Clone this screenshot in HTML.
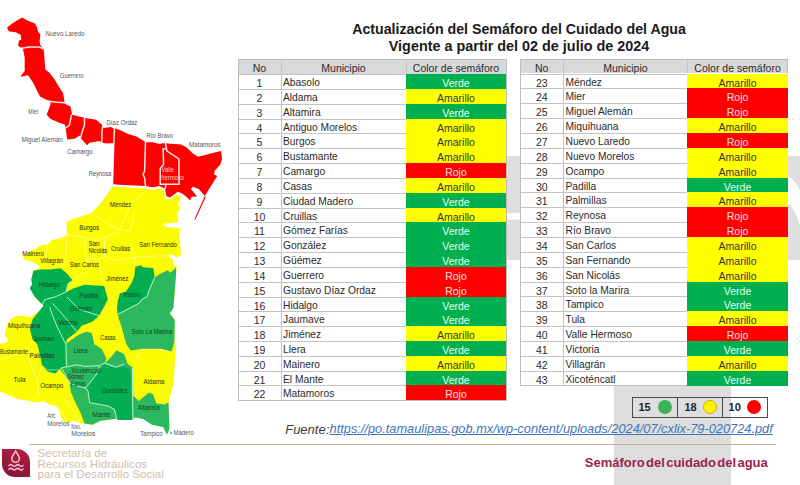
<!DOCTYPE html>
<html><head><meta charset="utf-8"><style>
*{margin:0;padding:0;box-sizing:border-box}
html,body{width:800px;height:485px;overflow:hidden;background:#fff;font-family:"Liberation Sans",sans-serif}
.a{position:absolute}
.tb{position:absolute;border:1px solid #bdbdbd;background:#fff}
.tb>div{position:absolute}
.hd{background:#d9d9d9}
.hl{height:1px;background:#c4c4c4}
.vl{width:1px;background:#c4c4c4}
.t{font-size:10.5px;color:#2a2a2a;white-space:nowrap;padding-top:2px}
.c{text-align:center}
.nm{font-size:10.25px}
.cl.V{background:#00b050}.cl.A{background:#ffff00}.cl.R{background:#ff0000}
.Vt{color:#e6fff0}.Rt{color:#ffe0e0}.At{color:#333}
.title{font-weight:bold;color:#1a1a1a;white-space:nowrap;text-align:center}
</style></head><body>
<!-- watermark -->
<div class="a" style="left:506px;top:156px;width:294px;height:104px;background:#dedee0"></div>
<div class="a" style="left:614px;top:386px;width:117px;height:99px;background:#dedee0"></div>
<svg class="a" style="left:500px;top:150px" width="300" height="120"><path d="M0,63.5 C100,62 220,45 288,26 C294,30 298,36 300,40 L300,76 C296,62 292,56 288,54 C220,62 100,69 0,69.7 Z" fill="#fff"/></svg>
<div class="a title" style="left:319px;top:21px;width:400px;font-size:14.2px;line-height:16px">Actualización del Semáforo del Cuidado del Agua</div>
<div class="a title" style="left:319px;top:38px;width:400px;font-size:14.4px;line-height:16px">Vigente a partir del 02 de julio de 2024</div>
<div class="a" style="left:238px;top:59.3px;width:268px;height:340.94px;background:#fff"></div>
<div class="a hd" style="left:238px;top:59.3px;width:268px;height:14.90px"></div>
<div class="a hl" style="left:238px;top:74.20px;width:168px"></div>
<div class="a hl" style="left:238px;top:89.02px;width:168px"></div>
<div class="a hl" style="left:238px;top:103.84px;width:168px"></div>
<div class="a hl" style="left:238px;top:118.66px;width:168px"></div>
<div class="a hl" style="left:238px;top:133.48px;width:168px"></div>
<div class="a hl" style="left:238px;top:148.30px;width:168px"></div>
<div class="a hl" style="left:238px;top:163.12px;width:168px"></div>
<div class="a hl" style="left:238px;top:177.94px;width:168px"></div>
<div class="a hl" style="left:238px;top:192.76px;width:168px"></div>
<div class="a hl" style="left:238px;top:207.58px;width:168px"></div>
<div class="a hl" style="left:238px;top:222.40px;width:168px"></div>
<div class="a hl" style="left:238px;top:237.22px;width:168px"></div>
<div class="a hl" style="left:238px;top:252.04px;width:168px"></div>
<div class="a hl" style="left:238px;top:266.86px;width:168px"></div>
<div class="a hl" style="left:238px;top:281.68px;width:168px"></div>
<div class="a hl" style="left:238px;top:296.50px;width:168px"></div>
<div class="a hl" style="left:238px;top:311.32px;width:168px"></div>
<div class="a hl" style="left:238px;top:326.14px;width:168px"></div>
<div class="a hl" style="left:238px;top:340.96px;width:168px"></div>
<div class="a hl" style="left:238px;top:355.78px;width:168px"></div>
<div class="a hl" style="left:238px;top:370.60px;width:168px"></div>
<div class="a hl" style="left:238px;top:385.42px;width:168px"></div>
<div class="a vl" style="left:280.5px;top:59.3px;height:340.94px"></div>
<div class="a vl" style="left:405.5px;top:59.3px;height:14.90px"></div>
<div class="a" style="left:237.5px;top:58.8px;width:269px;height:341.94px;border:1px solid #bdbdbd"></div>
<div class="a cl V" style="left:405.7px;width:100.8px;top:74.20px;height:15.12px"></div>
<div class="a cl A" style="left:405.7px;width:100.8px;top:89.02px;height:15.12px"></div>
<div class="a cl V" style="left:405.7px;width:100.8px;top:103.84px;height:15.12px"></div>
<div class="a cl A" style="left:405.7px;width:100.8px;top:118.66px;height:15.12px"></div>
<div class="a cl A" style="left:405.7px;width:100.8px;top:133.48px;height:15.12px"></div>
<div class="a cl A" style="left:405.7px;width:100.8px;top:148.30px;height:15.12px"></div>
<div class="a cl R" style="left:405.7px;width:100.8px;top:163.12px;height:15.12px"></div>
<div class="a cl A" style="left:405.7px;width:100.8px;top:177.94px;height:15.12px"></div>
<div class="a cl V" style="left:405.7px;width:100.8px;top:192.76px;height:15.12px"></div>
<div class="a cl A" style="left:405.7px;width:100.8px;top:207.58px;height:15.12px"></div>
<div class="a cl V" style="left:405.7px;width:100.8px;top:222.40px;height:15.12px"></div>
<div class="a cl V" style="left:405.7px;width:100.8px;top:237.22px;height:15.12px"></div>
<div class="a cl V" style="left:405.7px;width:100.8px;top:252.04px;height:15.12px"></div>
<div class="a cl R" style="left:405.7px;width:100.8px;top:266.86px;height:15.12px"></div>
<div class="a cl R" style="left:405.7px;width:100.8px;top:281.68px;height:15.12px"></div>
<div class="a cl V" style="left:405.7px;width:100.8px;top:296.50px;height:15.12px"></div>
<div class="a cl V" style="left:405.7px;width:100.8px;top:311.32px;height:15.12px"></div>
<div class="a cl A" style="left:405.7px;width:100.8px;top:326.14px;height:15.12px"></div>
<div class="a cl V" style="left:405.7px;width:100.8px;top:340.96px;height:15.12px"></div>
<div class="a cl A" style="left:405.7px;width:100.8px;top:355.78px;height:15.12px"></div>
<div class="a cl V" style="left:405.7px;width:100.8px;top:370.60px;height:15.12px"></div>
<div class="a cl R" style="left:405.7px;width:100.8px;top:385.42px;height:14.82px"></div>
<div class="a t c" style="left:238px;width:43px;top:59.30px;height:14.90px;line-height:14.90px">No</div>
<div class="a t c" style="left:281px;width:125px;top:59.30px;height:14.90px;line-height:14.90px">Municipio</div>
<div class="a t c" style="left:406px;width:100px;top:59.30px;height:14.90px;line-height:14.90px">Color de semáforo</div>
<div class="a t c" style="left:238px;width:43px;top:74.20px;height:14.82px;line-height:14.82px">1</div>
<div class="a t nm" style="left:283px;top:74.20px;height:14.82px;line-height:14.82px">Abasolo</div>
<div class="a t c Vt" style="left:406px;width:100px;top:74.20px;height:14.82px;line-height:14.82px">Verde</div>
<div class="a t c" style="left:238px;width:43px;top:89.02px;height:14.82px;line-height:14.82px">2</div>
<div class="a t nm" style="left:283px;top:89.02px;height:14.82px;line-height:14.82px">Aldama</div>
<div class="a t c At" style="left:406px;width:100px;top:89.02px;height:14.82px;line-height:14.82px">Amarillo</div>
<div class="a t c" style="left:238px;width:43px;top:103.84px;height:14.82px;line-height:14.82px">3</div>
<div class="a t nm" style="left:283px;top:103.84px;height:14.82px;line-height:14.82px">Altamira</div>
<div class="a t c Vt" style="left:406px;width:100px;top:103.84px;height:14.82px;line-height:14.82px">Verde</div>
<div class="a t c" style="left:238px;width:43px;top:118.66px;height:14.82px;line-height:14.82px">4</div>
<div class="a t nm" style="left:283px;top:118.66px;height:14.82px;line-height:14.82px">Antiguo Morelos</div>
<div class="a t c At" style="left:406px;width:100px;top:118.66px;height:14.82px;line-height:14.82px">Amarillo</div>
<div class="a t c" style="left:238px;width:43px;top:133.48px;height:14.82px;line-height:14.82px">5</div>
<div class="a t nm" style="left:283px;top:133.48px;height:14.82px;line-height:14.82px">Burgos</div>
<div class="a t c At" style="left:406px;width:100px;top:133.48px;height:14.82px;line-height:14.82px">Amarillo</div>
<div class="a t c" style="left:238px;width:43px;top:148.30px;height:14.82px;line-height:14.82px">6</div>
<div class="a t nm" style="left:283px;top:148.30px;height:14.82px;line-height:14.82px">Bustamante</div>
<div class="a t c At" style="left:406px;width:100px;top:148.30px;height:14.82px;line-height:14.82px">Amarillo</div>
<div class="a t c" style="left:238px;width:43px;top:163.12px;height:14.82px;line-height:14.82px">7</div>
<div class="a t nm" style="left:283px;top:163.12px;height:14.82px;line-height:14.82px">Camargo</div>
<div class="a t c Rt" style="left:406px;width:100px;top:163.12px;height:14.82px;line-height:14.82px">Rojo</div>
<div class="a t c" style="left:238px;width:43px;top:177.94px;height:14.82px;line-height:14.82px">8</div>
<div class="a t nm" style="left:283px;top:177.94px;height:14.82px;line-height:14.82px">Casas</div>
<div class="a t c At" style="left:406px;width:100px;top:177.94px;height:14.82px;line-height:14.82px">Amarillo</div>
<div class="a t c" style="left:238px;width:43px;top:192.76px;height:14.82px;line-height:14.82px">9</div>
<div class="a t nm" style="left:283px;top:192.76px;height:14.82px;line-height:14.82px">Ciudad Madero</div>
<div class="a t c Vt" style="left:406px;width:100px;top:192.76px;height:14.82px;line-height:14.82px">Verde</div>
<div class="a t c" style="left:238px;width:43px;top:207.58px;height:14.82px;line-height:14.82px">10</div>
<div class="a t nm" style="left:283px;top:207.58px;height:14.82px;line-height:14.82px">Cruillas</div>
<div class="a t c At" style="left:406px;width:100px;top:207.58px;height:14.82px;line-height:14.82px">Amarillo</div>
<div class="a t c" style="left:238px;width:43px;top:222.40px;height:14.82px;line-height:14.82px">11</div>
<div class="a t nm" style="left:283px;top:222.40px;height:14.82px;line-height:14.82px">Gómez Farías</div>
<div class="a t c Vt" style="left:406px;width:100px;top:222.40px;height:14.82px;line-height:14.82px">Verde</div>
<div class="a t c" style="left:238px;width:43px;top:237.22px;height:14.82px;line-height:14.82px">12</div>
<div class="a t nm" style="left:283px;top:237.22px;height:14.82px;line-height:14.82px">González</div>
<div class="a t c Vt" style="left:406px;width:100px;top:237.22px;height:14.82px;line-height:14.82px">Verde</div>
<div class="a t c" style="left:238px;width:43px;top:252.04px;height:14.82px;line-height:14.82px">13</div>
<div class="a t nm" style="left:283px;top:252.04px;height:14.82px;line-height:14.82px">Güémez</div>
<div class="a t c Vt" style="left:406px;width:100px;top:252.04px;height:14.82px;line-height:14.82px">Verde</div>
<div class="a t c" style="left:238px;width:43px;top:266.86px;height:14.82px;line-height:14.82px">14</div>
<div class="a t nm" style="left:283px;top:266.86px;height:14.82px;line-height:14.82px">Guerrero</div>
<div class="a t c Rt" style="left:406px;width:100px;top:266.86px;height:14.82px;line-height:14.82px">Rojo</div>
<div class="a t c" style="left:238px;width:43px;top:281.68px;height:14.82px;line-height:14.82px">15</div>
<div class="a t nm" style="left:283px;top:281.68px;height:14.82px;line-height:14.82px">Gustavo Díaz Ordaz</div>
<div class="a t c Rt" style="left:406px;width:100px;top:281.68px;height:14.82px;line-height:14.82px">Rojo</div>
<div class="a t c" style="left:238px;width:43px;top:296.50px;height:14.82px;line-height:14.82px">16</div>
<div class="a t nm" style="left:283px;top:296.50px;height:14.82px;line-height:14.82px">Hidalgo</div>
<div class="a t c Vt" style="left:406px;width:100px;top:296.50px;height:14.82px;line-height:14.82px">Verde</div>
<div class="a t c" style="left:238px;width:43px;top:311.32px;height:14.82px;line-height:14.82px">17</div>
<div class="a t nm" style="left:283px;top:311.32px;height:14.82px;line-height:14.82px">Jaumave</div>
<div class="a t c Vt" style="left:406px;width:100px;top:311.32px;height:14.82px;line-height:14.82px">Verde</div>
<div class="a t c" style="left:238px;width:43px;top:326.14px;height:14.82px;line-height:14.82px">18</div>
<div class="a t nm" style="left:283px;top:326.14px;height:14.82px;line-height:14.82px">Jiménez</div>
<div class="a t c At" style="left:406px;width:100px;top:326.14px;height:14.82px;line-height:14.82px">Amarillo</div>
<div class="a t c" style="left:238px;width:43px;top:340.96px;height:14.82px;line-height:14.82px">19</div>
<div class="a t nm" style="left:283px;top:340.96px;height:14.82px;line-height:14.82px">Llera</div>
<div class="a t c Vt" style="left:406px;width:100px;top:340.96px;height:14.82px;line-height:14.82px">Verde</div>
<div class="a t c" style="left:238px;width:43px;top:355.78px;height:14.82px;line-height:14.82px">20</div>
<div class="a t nm" style="left:283px;top:355.78px;height:14.82px;line-height:14.82px">Mainero</div>
<div class="a t c At" style="left:406px;width:100px;top:355.78px;height:14.82px;line-height:14.82px">Amarillo</div>
<div class="a t c" style="left:238px;width:43px;top:370.60px;height:14.82px;line-height:14.82px">21</div>
<div class="a t nm" style="left:283px;top:370.60px;height:14.82px;line-height:14.82px">El Mante</div>
<div class="a t c Vt" style="left:406px;width:100px;top:370.60px;height:14.82px;line-height:14.82px">Verde</div>
<div class="a t c" style="left:238px;width:43px;top:385.42px;height:14.82px;line-height:14.82px">22</div>
<div class="a t nm" style="left:283px;top:385.42px;height:14.82px;line-height:14.82px">Matamoros</div>
<div class="a t c Rt" style="left:406px;width:100px;top:385.42px;height:14.82px;line-height:14.82px">Rojo</div>
<div class="a" style="left:520px;top:59.2px;width:267.79999999999995px;height:326.36px;background:#fff"></div>
<div class="a hd" style="left:520px;top:59.2px;width:267.79999999999995px;height:14.30px"></div>
<div class="a hl" style="left:520px;top:73.50px;width:167.29999999999995px"></div>
<div class="a hl" style="left:520px;top:88.36px;width:167.29999999999995px"></div>
<div class="a hl" style="left:520px;top:103.22px;width:167.29999999999995px"></div>
<div class="a hl" style="left:520px;top:118.08px;width:167.29999999999995px"></div>
<div class="a hl" style="left:520px;top:132.94px;width:167.29999999999995px"></div>
<div class="a hl" style="left:520px;top:147.80px;width:167.29999999999995px"></div>
<div class="a hl" style="left:520px;top:162.66px;width:167.29999999999995px"></div>
<div class="a hl" style="left:520px;top:177.52px;width:167.29999999999995px"></div>
<div class="a hl" style="left:520px;top:192.38px;width:167.29999999999995px"></div>
<div class="a hl" style="left:520px;top:207.24px;width:167.29999999999995px"></div>
<div class="a hl" style="left:520px;top:222.10px;width:167.29999999999995px"></div>
<div class="a hl" style="left:520px;top:236.96px;width:167.29999999999995px"></div>
<div class="a hl" style="left:520px;top:251.82px;width:167.29999999999995px"></div>
<div class="a hl" style="left:520px;top:266.68px;width:167.29999999999995px"></div>
<div class="a hl" style="left:520px;top:281.54px;width:167.29999999999995px"></div>
<div class="a hl" style="left:520px;top:296.40px;width:167.29999999999995px"></div>
<div class="a hl" style="left:520px;top:311.26px;width:167.29999999999995px"></div>
<div class="a hl" style="left:520px;top:326.12px;width:167.29999999999995px"></div>
<div class="a hl" style="left:520px;top:340.98px;width:167.29999999999995px"></div>
<div class="a hl" style="left:520px;top:355.84px;width:167.29999999999995px"></div>
<div class="a hl" style="left:520px;top:370.70px;width:167.29999999999995px"></div>
<div class="a vl" style="left:563.0px;top:59.2px;height:326.36px"></div>
<div class="a vl" style="left:686.8px;top:59.2px;height:14.30px"></div>
<div class="a" style="left:519.5px;top:58.7px;width:268.79999999999995px;height:327.36px;border:1px solid #bdbdbd"></div>
<div class="a cl A" style="left:687.0px;width:101.3px;top:73.50px;height:15.16px"></div>
<div class="a cl R" style="left:687.0px;width:101.3px;top:88.36px;height:15.16px"></div>
<div class="a cl R" style="left:687.0px;width:101.3px;top:103.22px;height:15.16px"></div>
<div class="a cl A" style="left:687.0px;width:101.3px;top:118.08px;height:15.16px"></div>
<div class="a cl R" style="left:687.0px;width:101.3px;top:132.94px;height:15.16px"></div>
<div class="a cl A" style="left:687.0px;width:101.3px;top:147.80px;height:15.16px"></div>
<div class="a cl A" style="left:687.0px;width:101.3px;top:162.66px;height:15.16px"></div>
<div class="a cl V" style="left:687.0px;width:101.3px;top:177.52px;height:15.16px"></div>
<div class="a cl A" style="left:687.0px;width:101.3px;top:192.38px;height:15.16px"></div>
<div class="a cl R" style="left:687.0px;width:101.3px;top:207.24px;height:15.16px"></div>
<div class="a cl R" style="left:687.0px;width:101.3px;top:222.10px;height:15.16px"></div>
<div class="a cl A" style="left:687.0px;width:101.3px;top:236.96px;height:15.16px"></div>
<div class="a cl A" style="left:687.0px;width:101.3px;top:251.82px;height:15.16px"></div>
<div class="a cl A" style="left:687.0px;width:101.3px;top:266.68px;height:15.16px"></div>
<div class="a cl V" style="left:687.0px;width:101.3px;top:281.54px;height:15.16px"></div>
<div class="a cl V" style="left:687.0px;width:101.3px;top:296.40px;height:15.16px"></div>
<div class="a cl A" style="left:687.0px;width:101.3px;top:311.26px;height:15.16px"></div>
<div class="a cl R" style="left:687.0px;width:101.3px;top:326.12px;height:15.16px"></div>
<div class="a cl V" style="left:687.0px;width:101.3px;top:340.98px;height:15.16px"></div>
<div class="a cl A" style="left:687.0px;width:101.3px;top:355.84px;height:15.16px"></div>
<div class="a cl V" style="left:687.0px;width:101.3px;top:370.70px;height:14.86px"></div>
<div class="a t c" style="left:520px;width:43.5px;top:59.20px;height:14.30px;line-height:14.30px">No</div>
<div class="a t c" style="left:563.5px;width:123.79999999999995px;top:59.20px;height:14.30px;line-height:14.30px">Municipio</div>
<div class="a t c" style="left:687.3px;width:100.5px;top:59.20px;height:14.30px;line-height:14.30px">Color de semáforo</div>
<div class="a t c" style="left:520px;width:43.5px;top:73.50px;height:14.86px;line-height:14.86px">23</div>
<div class="a t nm" style="left:565.5px;top:73.50px;height:14.86px;line-height:14.86px">Méndez</div>
<div class="a t c At" style="left:687.3px;width:100.5px;top:73.50px;height:14.86px;line-height:14.86px">Amarillo</div>
<div class="a t c" style="left:520px;width:43.5px;top:88.36px;height:14.86px;line-height:14.86px">24</div>
<div class="a t nm" style="left:565.5px;top:88.36px;height:14.86px;line-height:14.86px">Mier</div>
<div class="a t c Rt" style="left:687.3px;width:100.5px;top:88.36px;height:14.86px;line-height:14.86px">Rojo</div>
<div class="a t c" style="left:520px;width:43.5px;top:103.22px;height:14.86px;line-height:14.86px">25</div>
<div class="a t nm" style="left:565.5px;top:103.22px;height:14.86px;line-height:14.86px">Miguel Alemán</div>
<div class="a t c Rt" style="left:687.3px;width:100.5px;top:103.22px;height:14.86px;line-height:14.86px">Rojo</div>
<div class="a t c" style="left:520px;width:43.5px;top:118.08px;height:14.86px;line-height:14.86px">26</div>
<div class="a t nm" style="left:565.5px;top:118.08px;height:14.86px;line-height:14.86px">Miquihuana</div>
<div class="a t c At" style="left:687.3px;width:100.5px;top:118.08px;height:14.86px;line-height:14.86px">Amarillo</div>
<div class="a t c" style="left:520px;width:43.5px;top:132.94px;height:14.86px;line-height:14.86px">27</div>
<div class="a t nm" style="left:565.5px;top:132.94px;height:14.86px;line-height:14.86px">Nuevo Laredo</div>
<div class="a t c Rt" style="left:687.3px;width:100.5px;top:132.94px;height:14.86px;line-height:14.86px">Rojo</div>
<div class="a t c" style="left:520px;width:43.5px;top:147.80px;height:14.86px;line-height:14.86px">28</div>
<div class="a t nm" style="left:565.5px;top:147.80px;height:14.86px;line-height:14.86px">Nuevo Morelos</div>
<div class="a t c At" style="left:687.3px;width:100.5px;top:147.80px;height:14.86px;line-height:14.86px">Amarillo</div>
<div class="a t c" style="left:520px;width:43.5px;top:162.66px;height:14.86px;line-height:14.86px">29</div>
<div class="a t nm" style="left:565.5px;top:162.66px;height:14.86px;line-height:14.86px">Ocampo</div>
<div class="a t c At" style="left:687.3px;width:100.5px;top:162.66px;height:14.86px;line-height:14.86px">Amarillo</div>
<div class="a t c" style="left:520px;width:43.5px;top:177.52px;height:14.86px;line-height:14.86px">30</div>
<div class="a t nm" style="left:565.5px;top:177.52px;height:14.86px;line-height:14.86px">Padilla</div>
<div class="a t c Vt" style="left:687.3px;width:100.5px;top:177.52px;height:14.86px;line-height:14.86px">Verde</div>
<div class="a t c" style="left:520px;width:43.5px;top:192.38px;height:14.86px;line-height:14.86px">31</div>
<div class="a t nm" style="left:565.5px;top:192.38px;height:14.86px;line-height:14.86px">Palmillas</div>
<div class="a t c At" style="left:687.3px;width:100.5px;top:192.38px;height:14.86px;line-height:14.86px">Amarillo</div>
<div class="a t c" style="left:520px;width:43.5px;top:207.24px;height:14.86px;line-height:14.86px">32</div>
<div class="a t nm" style="left:565.5px;top:207.24px;height:14.86px;line-height:14.86px">Reynosa</div>
<div class="a t c Rt" style="left:687.3px;width:100.5px;top:207.24px;height:14.86px;line-height:14.86px">Rojo</div>
<div class="a t c" style="left:520px;width:43.5px;top:222.10px;height:14.86px;line-height:14.86px">33</div>
<div class="a t nm" style="left:565.5px;top:222.10px;height:14.86px;line-height:14.86px">Río Bravo</div>
<div class="a t c Rt" style="left:687.3px;width:100.5px;top:222.10px;height:14.86px;line-height:14.86px">Rojo</div>
<div class="a t c" style="left:520px;width:43.5px;top:236.96px;height:14.86px;line-height:14.86px">34</div>
<div class="a t nm" style="left:565.5px;top:236.96px;height:14.86px;line-height:14.86px">San Carlos</div>
<div class="a t c At" style="left:687.3px;width:100.5px;top:236.96px;height:14.86px;line-height:14.86px">Amarillo</div>
<div class="a t c" style="left:520px;width:43.5px;top:251.82px;height:14.86px;line-height:14.86px">35</div>
<div class="a t nm" style="left:565.5px;top:251.82px;height:14.86px;line-height:14.86px">San Fernando</div>
<div class="a t c At" style="left:687.3px;width:100.5px;top:251.82px;height:14.86px;line-height:14.86px">Amarillo</div>
<div class="a t c" style="left:520px;width:43.5px;top:266.68px;height:14.86px;line-height:14.86px">36</div>
<div class="a t nm" style="left:565.5px;top:266.68px;height:14.86px;line-height:14.86px">San Nicolás</div>
<div class="a t c At" style="left:687.3px;width:100.5px;top:266.68px;height:14.86px;line-height:14.86px">Amarillo</div>
<div class="a t c" style="left:520px;width:43.5px;top:281.54px;height:14.86px;line-height:14.86px">37</div>
<div class="a t nm" style="left:565.5px;top:281.54px;height:14.86px;line-height:14.86px">Soto la Marira</div>
<div class="a t c Vt" style="left:687.3px;width:100.5px;top:281.54px;height:14.86px;line-height:14.86px">Verde</div>
<div class="a t c" style="left:520px;width:43.5px;top:296.40px;height:14.86px;line-height:14.86px">38</div>
<div class="a t nm" style="left:565.5px;top:296.40px;height:14.86px;line-height:14.86px">Tampico</div>
<div class="a t c Vt" style="left:687.3px;width:100.5px;top:296.40px;height:14.86px;line-height:14.86px">Verde</div>
<div class="a t c" style="left:520px;width:43.5px;top:311.26px;height:14.86px;line-height:14.86px">39</div>
<div class="a t nm" style="left:565.5px;top:311.26px;height:14.86px;line-height:14.86px">Tula</div>
<div class="a t c At" style="left:687.3px;width:100.5px;top:311.26px;height:14.86px;line-height:14.86px">Amarillo</div>
<div class="a t c" style="left:520px;width:43.5px;top:326.12px;height:14.86px;line-height:14.86px">40</div>
<div class="a t nm" style="left:565.5px;top:326.12px;height:14.86px;line-height:14.86px">Valle Hermoso</div>
<div class="a t c Rt" style="left:687.3px;width:100.5px;top:326.12px;height:14.86px;line-height:14.86px">Rojo</div>
<div class="a t c" style="left:520px;width:43.5px;top:340.98px;height:14.86px;line-height:14.86px">41</div>
<div class="a t nm" style="left:565.5px;top:340.98px;height:14.86px;line-height:14.86px">Victoria</div>
<div class="a t c Vt" style="left:687.3px;width:100.5px;top:340.98px;height:14.86px;line-height:14.86px">Verde</div>
<div class="a t c" style="left:520px;width:43.5px;top:355.84px;height:14.86px;line-height:14.86px">42</div>
<div class="a t nm" style="left:565.5px;top:355.84px;height:14.86px;line-height:14.86px">Villagrán</div>
<div class="a t c At" style="left:687.3px;width:100.5px;top:355.84px;height:14.86px;line-height:14.86px">Amarillo</div>
<div class="a t c" style="left:520px;width:43.5px;top:370.70px;height:14.86px;line-height:14.86px">43</div>
<div class="a t nm" style="left:565.5px;top:370.70px;height:14.86px;line-height:14.86px">Xicoténcatl</div>
<div class="a t c Vt" style="left:687.3px;width:100.5px;top:370.70px;height:14.86px;line-height:14.86px">Verde</div>
<svg class="a" style="left:0;top:0" width="240" height="485" viewBox="0 0 240 485">
<g stroke-linejoin="round">
<polygon fill="#ff0000" points="7.4,27.3 11.5,24 16.5,20.7 22.3,17.4 26.4,19.9 29.7,21.5 34.6,23.2 37.1,27.3 37.9,31.4 40.4,34.7 39.6,41.3 40.4,45.5 43.7,48.8 44.5,59.5 45.4,69.4 49.5,72.7 54.4,79.3 59.4,87.5 63.1,93.3 64.7,102.4 70.5,106.5 72.2,114.7 75.5,115.6 82.1,117.2 85.4,118 96.1,119.7 102.7,125.5 103.5,128 111,127.1 113.3,128.2 115,128.2 119.9,129.9 128.1,134 136.4,136.5 143,140.6 146.3,142.3 152.9,142.3 159.5,143.9 164.4,143.1 170,143.7 181.1,144.6 186.7,147.4 192.3,153 197.9,156.7 205.3,154.9 212.7,153 221.1,151.1 222,158.6 220.5,164.3 214.7,170.8 214,174.5 217.2,175.9 204.8,196.1 194.3,219.4 195.4,219.6 205.8,197 203.8,194.7 201.7,192.5 198.8,188.9 193,186.7 190.8,188.9 194.5,193.2 197,196.5 191.6,196.8 190.1,200.5 187.2,197.6 182.9,194 180,192.5 177.4,192 170,197.6 165.5,196 164.4,189.3 159.5,186 152.9,187.6 145.5,186 126.5,185.2 113.3,184.3 112.5,182.7 114,143 106.8,143.6 101.9,142.8 99.4,141.1 89.5,142.8 87,145.3 80.4,137.8 79.6,135.4 74.6,138.7 67.2,139.5 65.6,128 64.7,124.6 58.1,122.2 50.7,118.9 46.6,114.7 50.7,104 49.9,101.5 40,96.6 33,82.6 28,75.2 20.6,76.8 21.4,75.2 24.7,71 24.7,57.8 23.1,49.6 18.1,45.5 19,40.5 21.4,39.7 20.6,34.7 15.7,32.3 9.1,31.4 7.4,29"/>
<polygon fill="#fcfc00" points="112.5,186.5 126.5,187.5 145.5,188.5 152.9,189.8 159.5,188.5 164,190.5 166,199.2 170,199.5 177.4,194.5 181,197 178.1,203.6 180,209.2 177.2,212.9 178.1,222.2 162.3,224 166,226.8 181.8,228.7 179,231.4 180,240.7 180.9,255.6 176.3,257.2 172,254.3 167.6,255.8 172.5,259.3 174.4,266.7 176.8,264.8 174.8,290.4 173.4,307.7 169.8,313.5 174.8,320 174.4,341.2 176,350 175.2,353.3 173.7,382.2 170.6,394.5 168.5,402 168.6,424 166.8,433 163.8,427 151.8,424 143.2,418.5 136,417 131.6,417.8 118.5,418.4 100.3,420.7 92.4,424.8 84.5,423.4 80.8,423.4 73.6,420.5 67.8,422.7 63.5,421.2 60.6,416.2 59.2,410.4 56.3,406 49,404.6 43.3,401 37.5,402.5 33.2,401.7 26,400.3 17.3,398.9 7.2,394.5 0,391.6 0,343.8 4.9,343 8.2,340.5 4.9,334.7 6.6,326.5 11.5,318.2 16.5,315.8 23.1,315.8 30.5,317.4 34.6,314.1 37.9,312.5 42,308 43.5,305.8 42.3,304.6 34.9,297.1 29.7,288.1 32.1,284.4 31.3,279.6 33.4,270.8 40.8,267.1 37.1,264.6 33.4,262.1 28.4,260.9 23.5,259 23.5,254.7 30.9,251 37.1,247.9 42,244.8 47,244.8 51.9,239.9 58.1,238.7 63,237.4 66.8,234.5 66.8,222 69.3,220.3 78.6,217.5 91.5,212.8 97.1,207.3 104.5,198"/>
</g>
<g fill="#02ae4f">
<polygon points="33.4,270.8 40.8,269.6 49.4,269.6 60.6,268.3 66.7,273.3 72.9,280.7 68.3,283.5 65.8,292.2 54.7,297.1 44.8,299.6 42.3,304.6 34.9,297.1 29.7,288.1 32.1,284.4 31.3,279.6"/>
<polygon points="42.3,304.6 44.8,299.6 54.7,297.1 65.8,292.2 68.3,291 73.2,288.5 84.4,284.8 104.2,286 107.9,299.6 99.2,315.7 91.8,321.9 81.9,325.6 76.9,331.8 67,339.2 65.8,344.2 66.5,366 61,368 55.5,373.5 47.5,371.5 42,365 39.8,354 37.3,344.2 32.4,339.2 29.9,329.3 32.4,319.4 43.5,305.8"/>
<polygon points="135.2,266.6 141.6,265.2 142.4,267.3 153.2,268 154.6,276 153.2,281 148.9,290.4 147.4,296.2 141.6,299.8 138.8,303.4 117.8,314.3 116.9,309 118,300 120,293.3 125.8,291.8 131.5,283.2 134.4,276"/>
</g>
<g fill="#2bb85e">
<polygon points="65.8,344.2 67,343 79.4,334.3 86.8,331.8 91.8,333 94.3,344.2 101.7,349.1 106.6,359 104.2,364 111.6,356.5 116.5,350.3 124,354 127.7,364 133,367.7 133.3,419.7 118.5,418.4 100.3,420.7 92.4,424.8 84.4,423.4 80.8,413.3 75,401.7 70.7,391.6 69.3,381.5 60.6,370 61,368 66.5,366"/>
<polygon points="117.8,314.3 138.8,303.4 141.6,299.8 147.4,296.2 148.9,290.4 153.2,281 154.6,277.4 159,274.5 167.6,270.2 170.5,272.4 174.8,268.8 175.6,267.3 176.3,270.2 174.8,290.4 173.4,307.7 169.8,313.5 174.8,320 174.4,341.2 171.6,351.4 160.5,348.7 142.9,348.7 130.8,350.5 126.2,344 123.4,333.8 121.5,326.4 118.8,319"/>
<polygon points="131.6,396 133.8,396 138.8,401 144.6,396 149,392.4 153.3,394.5 156.2,403.2 164.8,404.6 168.5,402 169.3,424.8 166.3,427.7 151.8,424.8 143.2,419 136,417.6 131.6,418.5 131.6,411.8"/><polygon points="163.4,427.2 167,434.9 169.3,429.1 169.3,424.8"/><polygon points="170.2,430.8 172.6,433.6 170.5,434.2"/>
</g>
<polygon fill="#02ae4f" points="88,387.9 93,379.6 99.6,370.5 104.5,364 109.5,366.4 116,368 124.4,366.4 129.3,368.9 131,378 131,394.4 131.8,406 132.6,420 117,420 114.4,409.3 107.9,406 99.6,404.4 89.7,402.7"/>
<g fill="none" stroke="#fff" stroke-width="1.5" opacity="0.9">
<polyline points="20,48.5 29.7,47.1 38.8,47.1 44,49"/>
<polyline points="47,101 56.5,102.2 64.7,102.8 70,105.5"/>
<polyline points="71.5,114.5 69.5,125 65.6,128"/>
<polyline points="84.5,118 84.5,124.6 80.4,137.8"/>
<polyline points="102.7,125.5 101.9,132 101.9,142.8"/>
<polyline points="114.5,128 113.8,143 112.5,184"/>
<polyline points="145.5,141.4 144.6,171 143,174.4 144.6,177.7 145.5,186"/>
<polyline points="165.3,143 166.5,148.5"/>
<polygon points="163.1,149 166.5,148.5 166.7,150.9 179,158.9 179,184.3 160.2,184.3 160.2,168.5 163.6,164.6"/>
<polyline points="166,184.3 165,189"/>
<polyline points="112.5,185.5 126.5,186.2 145.5,187 152.9,188.6 159.5,187 164.4,189.3 166,198"/>
</g>
<g fill="none" stroke="#fff" stroke-width="0.8" opacity="0.6">
<polyline points="91,213 97,216.5 104.5,222 119.4,229.5"/>
<polyline points="119.4,229.5 126.8,214.7 130.5,203.6 139.8,196 150,188.5"/>
<polyline points="65.6,235 82.3,237 97.1,240.7 106.4,237 115.7,233.2 119.4,229.5 130.5,231.4 134.2,212.8"/>
<polyline points="84.1,237 86,257.4 99,259.2 104.5,255.5 104.5,237"/>
<polyline points="104.5,255.5 115.7,261.1 134.2,257.4 130.5,240.7"/>
<polyline points="134.2,257.4 150,256 170,256"/>
<polyline points="134.2,257.4 136,268"/>
<polyline points="66.8,234.5 65.6,261.7 61,267.2"/>
<polyline points="47.5,244 46.5,252 44,262"/>
<polyline points="86,257.4 88,270 73.2,279.8"/>
<polyline points="99,259.2 101,275 104.2,286"/>
<polyline points="107.9,299.6 116.9,309"/>
<polyline points="0,359.5 10,357 25,350 33,342"/>
<polyline points="36.8,397.4 39,394.5 37,380 42,366"/>
<polyline points="43,366 47,370 60,370"/>
<polyline points="25,350 30,362 37,380"/>
<polyline points="57.7,406 64,415 67.8,423"/>
<polyline points="65,398.9 73,410 80,423"/>
<polyline points="133,360.5 142.9,349.5 160.5,349.5 171.6,352"/>
</g>
<g fill="none" stroke="#c8f7d8" stroke-width="0.9">
<polyline points="42.3,304.6 44.8,299.6 54.7,297.1 65.8,292.2 68.3,283.5 73.2,279.8"/>
<polyline points="67,297.1 79.4,309.5 99.2,315.7"/>
<polyline points="49.7,307 52.2,314.5 57.1,326.8 65.8,344.2"/>
<polyline points="52.2,303.3 57.1,308.3 64.6,316.9 76.9,331.8"/>
<polyline points="65.8,344.2 66.5,366"/>
<polyline points="61,368 76.5,364.8 84.8,366.4 99.6,365.6 104.5,363.1 109.5,364.8 116,367.2 124.4,363.9"/>
<polyline points="99.6,366 96.3,374.6 89.7,382.9 84.8,387.9 88,391.2 89.7,402.7 99.6,404.4 107.9,406 114.4,409.3 117,420"/>
<polyline points="61.6,368 69.9,382.9 78.2,386.2 84.8,387.9"/>
<polyline points="117.8,314.3 138.8,303.4 141.6,299.8 147.4,296.2 148.9,290.4 153.2,281 154.6,277.4"/>
<polyline points="132.5,368 132.8,420"/>
</g>
</svg>

<svg class="a" style="left:0;top:0" width="240" height="485" viewBox="0 0 240 485" font-family="Liberation Sans, sans-serif" font-size="7.2">
<text x="45.4" y="35.6" fill="#555" textLength="39.1" lengthAdjust="spacingAndGlyphs">Nuevo Laredo</text>
<text x="59.8" y="78.1" fill="#555" textLength="23.9" lengthAdjust="spacingAndGlyphs">Guerrero</text>
<text x="28.3" y="113.9" fill="#555" textLength="10.2" lengthAdjust="spacingAndGlyphs">Mier</text>
<text x="21.4" y="142.0" fill="#555" textLength="41.3" lengthAdjust="spacingAndGlyphs">Miguel Alemán</text>
<text x="67.2" y="153.9" fill="#555" textLength="25.6" lengthAdjust="spacingAndGlyphs">Camargo</text>
<text x="106.4" y="125.1" fill="#555" textLength="30.9" lengthAdjust="spacingAndGlyphs">Díaz Ordaz</text>
<text x="146.4" y="137.9" fill="#555" textLength="26.8" lengthAdjust="spacingAndGlyphs">Río Bravo</text>
<text x="188.9" y="146.9" fill="#555" textLength="31.7" lengthAdjust="spacingAndGlyphs">Matamoros</text>
<text x="88.7" y="175.8" fill="#555" textLength="22.6" lengthAdjust="spacingAndGlyphs">Reynosa</text>
<text x="161.6" y="171.6" fill="#ffd8d8" textLength="12.4" lengthAdjust="spacingAndGlyphs">Valle</text>
<text x="161.6" y="179.9" fill="#ffd8d8" textLength="22.4" lengthAdjust="spacingAndGlyphs">hermoso</text>
<text x="109.9" y="206.7" fill="#2a2a2a" textLength="21.4" lengthAdjust="spacingAndGlyphs">Méndez</text>
<text x="79.3" y="229.8" fill="#2a2a2a" textLength="19.8" lengthAdjust="spacingAndGlyphs">Burgos</text>
<text x="88.4" y="245.8" fill="#2a2a2a" textLength="11.1" lengthAdjust="spacingAndGlyphs">San</text>
<text x="88.4" y="253.3" fill="#2a2a2a" textLength="18.8" lengthAdjust="spacingAndGlyphs">Nicolás</text>
<text x="110.9" y="251.2" fill="#2a2a2a" textLength="19.3" lengthAdjust="spacingAndGlyphs">Cruillas</text>
<text x="139.3" y="246.9" fill="#2a2a2a" textLength="37.5" lengthAdjust="spacingAndGlyphs">San Fernando</text>
<text x="22.2" y="256.1" fill="#2a2a2a" textLength="21.7" lengthAdjust="spacingAndGlyphs">Mainero</text>
<text x="40.2" y="263.0" fill="#2a2a2a" textLength="23.0" lengthAdjust="spacingAndGlyphs">Villagrán</text>
<text x="69.7" y="267.3" fill="#2a2a2a" textLength="29.4" lengthAdjust="spacingAndGlyphs">San Carlos</text>
<text x="106.1" y="280.6" fill="#2a2a2a" textLength="22.5" lengthAdjust="spacingAndGlyphs">Jiménez</text>
<text x="38.6" y="287.1" fill="#0a4a20" textLength="21.4" lengthAdjust="spacingAndGlyphs">Hidalgo</text>
<text x="79.3" y="297.8" fill="#0a4a20" textLength="18.7" lengthAdjust="spacingAndGlyphs">Padilla</text>
<text x="123.3" y="296.7" fill="#0a4a20" textLength="17.1" lengthAdjust="spacingAndGlyphs">Abasolo</text>
<text x="69.7" y="311.2" fill="#0a4a20" textLength="22.5" lengthAdjust="spacingAndGlyphs">Güémez</text>
<text x="57.9" y="324.6" fill="#0a4a20" textLength="19.8" lengthAdjust="spacingAndGlyphs">Victoria</text>
<text x="8" y="328.4" fill="#2a2a2a" textLength="32.2" lengthAdjust="spacingAndGlyphs">Miquihuana</text>
<text x="33.2" y="340.7" fill="#0a4a20" textLength="21.5" lengthAdjust="spacingAndGlyphs">Jaumave</text>
<text x="131.5" y="334.1" fill="#0a4a20" textLength="40.5" lengthAdjust="spacingAndGlyphs">Soto La Marina</text>
<text x="100.3" y="339.6" fill="#2a2a2a" textLength="15.2" lengthAdjust="spacingAndGlyphs">Casas</text>
<text x="0" y="354.1" fill="#2a2a2a" textLength="27.9" lengthAdjust="spacingAndGlyphs">Bustamante</text>
<text x="29.5" y="358.4" fill="#2a2a2a" textLength="25.2" lengthAdjust="spacingAndGlyphs">Palmillas</text>
<text x="73.4" y="353.0" fill="#0a4a20" textLength="14.0" lengthAdjust="spacingAndGlyphs">Llera</text>
<text x="71.3" y="372.8" fill="#0a4a20" textLength="29.5" lengthAdjust="spacingAndGlyphs">Xicoténcatl</text>
<text x="67" y="379.3" fill="#2a2a2a" textLength="17.0" lengthAdjust="spacingAndGlyphs">Gómez</text>
<text x="70.7" y="386.2" fill="#0a4a20" textLength="15.3" lengthAdjust="spacingAndGlyphs">Farías</text>
<text x="13.4" y="381.9" fill="#2a2a2a" textLength="12.3" lengthAdjust="spacingAndGlyphs">Tula</text>
<text x="40.2" y="387.9" fill="#2a2a2a" textLength="23.0" lengthAdjust="spacingAndGlyphs">Ocampo</text>
<text x="143.6" y="383.6" fill="#2a2a2a" textLength="20.9" lengthAdjust="spacingAndGlyphs">Aldama</text>
<text x="101.8" y="393.2" fill="#0a4a20" textLength="25.7" lengthAdjust="spacingAndGlyphs">González</text>
<text x="137.7" y="410.4" fill="#0a4a20" textLength="22.0" lengthAdjust="spacingAndGlyphs">Altamira</text>
<text x="92.2" y="416.8" fill="#0a4a20" textLength="18.2" lengthAdjust="spacingAndGlyphs">Mante</text>
<text x="47.2" y="418.4" fill="#555" textLength="8.8" lengthAdjust="spacingAndGlyphs">Ant.</text>
<text x="47.2" y="426.4" fill="#555" textLength="22.5" lengthAdjust="spacingAndGlyphs">Morelos</text>
<text x="71.3" y="429.4" fill="#555" textLength="9.7" lengthAdjust="spacingAndGlyphs">Nvo.</text>
<text x="71.3" y="435.6" fill="#555" textLength="24.1" lengthAdjust="spacingAndGlyphs">Morelos</text>
<text x="140.3" y="435.6" fill="#555" textLength="22.3" lengthAdjust="spacingAndGlyphs">Tampico</text>
<text x="173.5" y="434.9" fill="#555" textLength="20.2" lengthAdjust="spacingAndGlyphs">Madero</text>
</svg>
<!-- footer -->
<div class="a" style="left:29px;top:444px;width:747px;height:1.4px;background:#c6ae92"></div>
<div class="a" style="left:2.2px;top:448.8px;width:28px;height:28px;border-radius:0 13px 0 13px;background:linear-gradient(200deg,#b81f47 0%,#9c193c 50%,#7e1430 100%)"></div>
<svg class="a" style="left:0;top:444px" width="36" height="40" viewBox="0 444 36 40"><g fill="none" stroke="#f2b8c8" stroke-width="1.6" stroke-linecap="round"><path d="M15.6,451.2 C14,453.8 11.8,456 11.8,458.6 A3.8,3.8 0 0 0 19.4,458.6 C19.4,456 17.2,453.8 15.6,451.2 Z"/><path d="M9,465.5 q1.75,-1.6 3.5,0 t3.5,0 t3.5,0 t3.5,0"/><path d="M9,469.2 q1.75,-1.6 3.5,0 t3.5,0 t3.5,0 t3.5,0"/></g></svg>
<div class="a" style="left:37.6px;top:448.2px;font-size:11.6px;line-height:10.5px;color:#d0bea8;white-space:nowrap">Secretaría de<br>Recursos Hidráulicos<br>para el Desarrollo Social</div>
<div class="a" style="left:285.2px;top:422.6px;font-size:13px;line-height:14px;white-space:nowrap;font-style:italic;color:#3a3a3a">Fuente:</div>
<div class="a" style="left:329.6px;top:422.2px;font-size:12.8px;line-height:14px;white-space:nowrap;font-style:italic;color:#3f74b8;text-decoration:underline">https://po.tamaulipas.gob.mx/wp-content/uploads/2024/07/cxlix-79-020724.pdf</div>
<div class="a" style="left:584.8px;top:456px;font-size:13px;line-height:14px;word-spacing:-2.3px;white-space:nowrap;font-weight:bold;color:#9c1e4b">Semáforo del cuidado del agua</div>
<!-- legend -->
<div class="a" style="left:632.3px;top:397px;width:135.6px;height:21px;border:1px solid #4a4a4a"></div>
<div class="a" style="left:677px;top:397px;width:1px;height:21px;background:#4a4a4a"></div>
<div class="a" style="left:722.2px;top:397px;width:1px;height:21px;background:#4a4a4a"></div>
<div class="a" style="left:638.5px;top:401px;font-size:11px;font-weight:bold;color:#222;line-height:12px">15</div>
<div class="a" style="left:684.4px;top:401px;font-size:11px;font-weight:bold;color:#222;line-height:12px">18</div>
<div class="a" style="left:728.6px;top:401px;font-size:11px;font-weight:bold;color:#222;line-height:12px">10</div>
<div class="a" style="left:657.8px;top:400.1px;width:14.4px;height:14.4px;border-radius:50%;background:#3cb55a"></div>
<div class="a" style="left:702.5px;top:400.1px;width:14.4px;height:14.4px;border-radius:50%;background:#fff200;border:1px solid #c8b400"></div>
<div class="a" style="left:746.8px;top:400.1px;width:14.4px;height:14.4px;border-radius:50%;background:#ff0000"></div>
</body></html>
